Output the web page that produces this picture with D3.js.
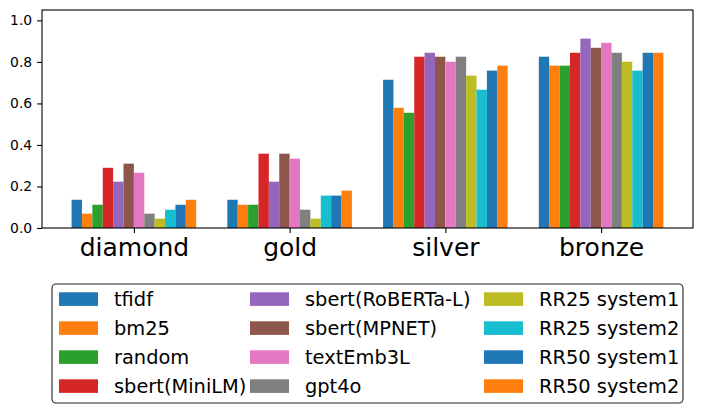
<!DOCTYPE html>
<html><head><meta charset="utf-8">
<script src="https://cdn.jsdelivr.net/npm/d3@7"></script>
<style>body{margin:0;background:#fff}svg{display:block;font-family:"DejaVu Sans",sans-serif}</style>
</head><body><svg id="c" width="703" height="414"></svg>
<script>
const categories = ["diamond","gold","silver","bronze"];
const methods = ["tfidf","bm25","random","sbert(MiniLM)","sbert(RoBERTa-L)","sbert(MPNET)","textEmb3L","gpt4o","RR25 system1","RR25 system2","RR50 system1","RR50 system2"];
const colors = ["#1f77b4","#ff7f0e","#2ca02c","#d62728","#9467bd","#8c564b","#e377c2","#7f7f7f","#bcbd22","#17becf","#1f77b4","#ff7f0e"];
// values[method][category]
const tfidf = [0.136,0.136,0.714,0.825];
const bm25 = [0.069,0.112,0.579,0.782];
const random = [0.112,0.112,0.555,0.782];
const sbertMiniLM = [0.290,0.358,0.825,0.844];
const sbertRoBERTa = [0.223,0.223,0.844,0.912];
const sbertMPNET = [0.310,0.358,0.825,0.868];
const textEmb3L = [0.266,0.334,0.801,0.892];
const gpt4o = [0.069,0.088,0.825,0.844];
const rr25s1 = [0.045,0.045,0.734,0.801];
const rr25s2 = [0.088,0.156,0.666,0.758];
const rr50s1 = [0.112,0.156,0.758,0.844];
const rr50s2 = [0.136,0.180,0.782,0.844];
const series = [tfidf,bm25,random,sbertMiniLM,sbertRoBERTa,sbertMPNET,textEmb3L,gpt4o,rr25s1,rr25s2,rr50s1,rr50s2];
const yTicks = [0,0.2,0.4,0.6,0.8,1.0];

const svg = d3.select("#c");
const L=42, R=693, T=10, B=228;
const n = methods.length, bw = 0.8/n;
const x = d3.scaleLinear().domain([-0.59,3.59]).range([L,R]);
const y = d3.scaleLinear().domain([0,1.05]).range([B,T]);

const g = svg.append("g");
series.forEach((vals,i)=>{
  g.selectAll(null).data(vals).enter().append("rect")
    .attr("x",(d,j)=>x(j-0.4+i*bw))
    .attr("width",(d,j)=>x(j-0.4+(i+1)*bw)-x(j-0.4+i*bw))
    .attr("y",d=>y(d)).attr("height",d=>B-y(d))
    .attr("fill",colors[i]);
});

const ya = svg.append("g").attr("transform",`translate(${L},0)`)
  .call(d3.axisLeft(y).tickValues(yTicks).tickFormat(d3.format(".1f")).tickSize(4.9).tickPadding(4.9));
ya.select(".domain").remove();
ya.selectAll("text").attr("font-size","13.9px").attr("fill","#000").attr("font-family","DejaVu Sans");
ya.selectAll("line").attr("stroke","#000").attr("stroke-width",1.1);

const xa = svg.append("g").attr("transform",`translate(0,${B})`)
  .call(d3.axisBottom(x).tickValues([0,1,2,3]).tickFormat(i=>categories[i]).tickSize(4.9).tickPadding(4.9));
xa.select(".domain").remove();
xa.selectAll("text").attr("font-size","25px").attr("fill","#000").attr("font-family","DejaVu Sans");
xa.selectAll("line").attr("stroke","#000").attr("stroke-width",1.1);

svg.append("rect").attr("x",L).attr("y",T).attr("width",R-L).attr("height",B-T)
  .attr("fill","none").attr("stroke","#000").attr("stroke-width",1.1);

// legend
const lg = svg.append("g");
lg.append("rect").attr("x",52).attr("y",284).attr("width",631).attr("height",119).attr("rx",4)
  .attr("fill","#fff").attr("stroke","#222").attr("stroke-width",1.1);
const colX = [59,250,484];
methods.forEach((m,i)=>{
  const c = Math.floor(i/4), r = i%4;
  const yy = 292.3 + r*29;
  lg.append("rect").attr("x",colX[c]).attr("y",yy).attr("width",39).attr("height",13.6).attr("fill",colors[i]);
  lg.append("text").attr("x",colX[c]+55).attr("y",yy+13.8).attr("font-size","19.4px").attr("fill","#000").text(m);
});
</script></body></html>
